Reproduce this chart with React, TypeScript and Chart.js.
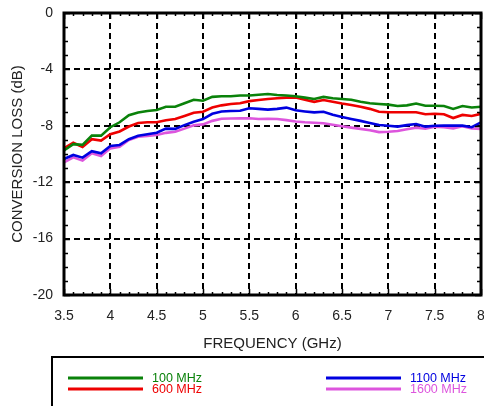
import React, { useEffect, useRef } from "react";
import { Chart, registerables } from "chart.js";

Chart.register(...registerables);

const freqs = [
  3.5, 3.6, 3.7, 3.8, 3.9, 4.0, 4.1, 4.2, 4.3, 4.4, 4.5, 4.6, 4.7, 4.8, 4.9, 5.0,
  5.1, 5.2, 5.3, 5.4, 5.5, 5.6, 5.7, 5.8, 5.9, 6.0, 6.1, 6.2, 6.3, 6.4, 6.5, 6.6,
  6.7, 6.8, 6.9, 7.0, 7.1, 7.2, 7.3, 7.4, 7.5, 7.6, 7.7, 7.8, 7.9, 8.0,
];

const loss100 = [
  -9.75, -9.3, -9.35, -8.7, -8.7, -8.1, -7.75, -7.25, -7.05, -6.95, -6.88, -6.65, -6.65, -6.4, -6.15, -6.22,
  -5.95, -5.9, -5.9, -5.85, -5.85, -5.8, -5.75, -5.82, -5.85, -5.9, -6.0, -6.1, -5.95, -6.05, -6.1, -6.15,
  -6.3, -6.4, -6.45, -6.5, -6.6, -6.55, -6.42, -6.58, -6.58, -6.6, -6.8, -6.6, -6.7, -6.65,
];

const loss600 = [
  -9.6, -9.2, -9.5, -8.95, -9.05, -8.6, -8.4, -8.05, -7.8, -7.75, -7.75, -7.6, -7.52, -7.3, -7.07, -7.0,
  -6.7, -6.55, -6.45, -6.4, -6.25, -6.17, -6.1, -6.05, -6.0, -6.0, -6.15, -6.3, -6.17, -6.3, -6.42, -6.52,
  -6.65, -6.8, -7.0, -7.04, -7.04, -7.04, -7.04, -7.18, -7.15, -7.18, -7.45, -7.23, -7.3, -7.15,
];

const loss1100 = [
  -10.35, -10.07, -10.26, -9.8, -9.95, -9.43, -9.36, -8.95, -8.7, -8.6, -8.49, -8.2, -8.22, -7.95, -7.71, -7.52,
  -7.15, -6.98, -6.95, -6.93, -6.76, -6.8, -6.85, -6.8, -6.71, -6.9, -6.98, -7.05, -7.0, -7.22, -7.38, -7.52,
  -7.65, -7.8, -7.94, -8.0, -8.06, -7.95, -7.87, -8.06, -8.0, -7.99, -7.99, -7.99, -8.1, -7.75,
];

const loss1600 = [
  -10.6, -10.24, -10.47, -9.95, -10.14, -9.6, -9.48, -9.0, -8.78, -8.72, -8.65, -8.5, -8.42, -8.2, -7.97, -7.9,
  -7.65, -7.5, -7.48, -7.47, -7.47, -7.52, -7.5, -7.52, -7.6, -7.7, -7.75, -7.78, -7.82, -7.92, -8.03, -8.13,
  -8.22, -8.32, -8.45, -8.42, -8.37, -8.25, -8.13, -8.2, -8.06, -8.1, -8.18, -8.03, -8.18, -8.23,
];

const seriesLabels = ["100 MHz", "600 MHz", "1100 MHz", "1600 MHz"];
const seriesColors = ["#0a820a", "#ee0000", "#0000e0", "#dd55dd"];

const xTickValues = [3.5, 4, 4.5, 5, 5.5, 6, 6.5, 7, 7.5, 8];
const yTickValues = [0, -4, -8, -12, -16, -20];

const xTitle = "FREQUENCY (GHz)";
const yTitle = "CONVERSION LOSS (dB)";

const FONT = "'Liberation Sans', Arial, Helvetica, sans-serif";

export default function App() {
  const ref = useRef<HTMLCanvasElement | null>(null);

  useEffect(() => {
    if (!ref.current) return;
    const allSeries = [loss100, loss600, loss1100, loss1600];

    const decor = {
      id: "decor",
      afterDatasetsDraw(chart: any) {
        const { ctx, chartArea: a, scales } = chart;
        const xs = scales.x;
        const ys = scales.y;
        ctx.save();
        ctx.strokeStyle = "#000";
        ctx.lineWidth = 1.5;
        ctx.beginPath();
        for (let i = 0; i <= 45; i++) {
          const f = 3.5 + i * 0.1;
          const px = Math.round(xs.getPixelForValue(f)) + 0.5;
          const major = i % 5 === 0;
          const len = major ? 6 : 3;
          ctx.moveTo(px, a.bottom);
          ctx.lineTo(px, a.bottom - len);
          ctx.moveTo(px, a.top);
          ctx.lineTo(px, a.top + len);
        }
        for (let v = 0; v >= -20; v -= 1) {
          const py = Math.round(ys.getPixelForValue(v)) + 0.5;
          const len = v % 4 === 0 ? 6 : 4;
          ctx.moveTo(a.left, py);
          ctx.lineTo(a.left + len, py);
          ctx.moveTo(a.right, py);
          ctx.lineTo(a.right - len, py);
        }
        ctx.stroke();
        ctx.lineWidth = 3;
        ctx.strokeRect(a.left, a.top, a.right - a.left, a.bottom - a.top);
        ctx.restore();
      },
      afterDraw(chart: any) {
        const { ctx, chartArea: a } = chart;
        ctx.save();
        ctx.fillStyle = "#222";
        ctx.font = `15px ${FONT}`;
        ctx.textAlign = "center";
        ctx.textBaseline = "middle";
        ctx.fillText(xTitle, (a.left + a.right) / 2, 344);
        ctx.translate(18, (a.top + a.bottom) / 2);
        ctx.rotate(-Math.PI / 2);
        ctx.fillText(yTitle, 0, 0);
        ctx.restore();

        ctx.save();
        ctx.strokeStyle = "#000";
        ctx.lineWidth = 2;
        ctx.strokeRect(52, 357, 500, 100);
        const pos = [
          { x: 68, y: 378 },
          { x: 68, y: 389 },
          { x: 326, y: 378 },
          { x: 326, y: 389 },
        ];
        ctx.font = `12.5px ${FONT}`;
        ctx.textAlign = "left";
        ctx.textBaseline = "middle";
        seriesLabels.forEach((lab, i) => {
          const p = pos[i];
          ctx.strokeStyle = seriesColors[i];
          ctx.lineWidth = 3;
          ctx.beginPath();
          ctx.moveTo(p.x, p.y);
          ctx.lineTo(p.x + 75, p.y);
          ctx.stroke();
          ctx.fillStyle = seriesColors[i];
          ctx.fillText(lab, p.x + 84, p.y + 0.5);
        });
        ctx.restore();
      },
    };

    const chart = new Chart(ref.current, {
      type: "line",
      data: {
        datasets: allSeries.map((s, i) => ({
          label: seriesLabels[i],
          data: freqs.map((f, j) => ({ x: f, y: s[j] })),
          borderColor: seriesColors[i],
          backgroundColor: seriesColors[i],
          borderWidth: 2.6,
          pointRadius: 0,
          tension: 0,
          fill: false,
        })),
      },
      options: {
        responsive: false,
        animation: false,
        events: [],
        layout: { padding: { top: 13, right: 3, left: 0, bottom: 0 } },
        plugins: { legend: { display: false }, tooltip: { enabled: false } },
        scales: {
          x: {
            type: "linear",
            min: 3.5,
            max: 8,
            afterFit(scale: any) {
              scale.height = 111;
              scale.paddingLeft = 0;
              scale.paddingRight = 0;
            },
            afterBuildTicks(scale: any) {
              scale.ticks = xTickValues.map((v) => ({ value: v }));
            },
            ticks: {
              color: "#222",
              font: { size: 14, family: FONT },
              padding: 13,
              maxRotation: 0,
              autoSkip: false,
              callback: (v: any) => String(v),
            },
            grid: { color: "#000", lineWidth: 2, drawTicks: false },
            border: { display: false, dash: [6, 4] },
          },
          y: {
            type: "linear",
            min: -20,
            max: 0,
            afterFit(scale: any) {
              scale.width = 64;
              scale.paddingTop = 0;
              scale.paddingBottom = 0;
            },
            afterBuildTicks(scale: any) {
              scale.ticks = yTickValues.map((v) => ({ value: v }));
            },
            ticks: {
              color: "#222",
              font: { size: 14, family: FONT },
              padding: 11,
              autoSkip: false,
              callback: (v: any) => String(v),
            },
            grid: { color: "#000", lineWidth: 2, drawTicks: false },
            border: { display: false, dash: [6, 4] },
          },
        },
      },
      plugins: [decor],
    } as any);

    return () => chart.destroy();
  }, []);

  return (
    <div style={{ position: "absolute", left: 0, top: 0, width: 484, height: 406, background: "#fff" }}>
      <canvas ref={ref} width={484} height={406} style={{ display: "block" }} />
    </div>
  );
}
